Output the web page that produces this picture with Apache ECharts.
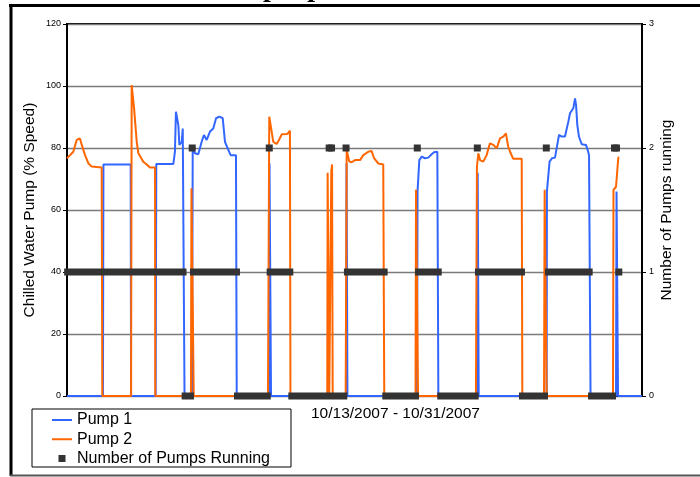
<!DOCTYPE html>
<html>
<head>
<meta charset="utf-8">
<script src="https://cdn.jsdelivr.net/npm/echarts@6/dist/echarts.min.js"></script>
<style>
html,body{margin:0;padding:0;background:#fff;}
#chart{width:700px;height:477px;}
</style>
</head>
<body>
<div id="chart"></div>
<script>
// x values: hours since 10/13/2007 00:00 (axis spans 10/13 - 10/31)
const xMaxHours = 456;
const leftTicks = [0, 20, 40, 60, 80, 100, 120];
const rightTicks = [0, 1, 2, 3];

// Pump 1 speed (%), [hour, speed]
const pump1 = [[0,0],[28.5,0],[28.9,74.7],[50.5,74.7],[50.8,0],[70.3,0],[70.8,74.8],[84.3,74.8],[85.6,78.8],[86.4,91.7],[87.5,92.3],[88.3,87.4],[89.1,81],[91.0,82],[91.8,86.3],[92.8,85.8],[93.2,0],[99.1,0],[99.7,80],[101.5,78.3],[104.1,78],[106.8,82],[108.6,84.2],[110.8,82.6],[113.4,85.3],[116.0,86.3],[118.2,89.6],[120.8,90.1],[123.5,89.6],[125.3,82],[127.9,79.4],[129.8,77.7],[134.0,77.7],[134.6,0],[160.2,0],[160.6,75],[161.4,75],[161.8,0],[221.4,0],[221.7,75],[222.1,75],[222.4,0],[277.6,0],[278.0,66],[279.4,76.1],[281.3,77.2],[283.9,76.7],[286.5,76.9],[289.2,78],[291.0,78.6],[293.7,78.8],[294.5,0],[325.4,0],[325.7,72],[326.2,72],[326.5,0],[380.4,0],[380.6,66],[382.7,75.6],[384.6,76.7],[387.0,76.9],[388.3,79.9],[390.2,84.2],[392.3,83.7],[394.9,83.7],[397.6,88.5],[398.9,91.2],[401.5,92.8],[402.9,96],[403.7,93.9],[404.7,87.4],[406.0,83.7],[408.2,81.2],[411.6,81],[412.9,79.4],[414.0,77.7],[414.8,77.7],[415.2,0],[435.4,0],[435.8,66],[436.6,66],[437.0,0],[456,0]];

// Pump 2 speed (%), [hour, speed]
const pump2 = [[0,76.7],[2.4,77.7],[5.0,78.8],[7.7,82.6],[10.3,83.1],[11.7,81],[14.3,77.7],[16.9,75.1],[19.6,74],[27.5,73.7],[28.0,0],[50.8,0],[51.3,100.3],[51.8,100],[53.2,92.8],[55.3,82],[56.6,78.3],[60.5,75.6],[63.7,74.5],[65.8,73.7],[69.8,73.7],[70.0,0],[98.3,0],[98.7,67],[100.2,67],[100.5,0],[159.4,0],[160.4,90.1],[162.3,85.3],[163.6,82],[166.3,81.3],[168.1,82.6],[170.3,84.4],[174.7,84.5],[176.8,85.6],[177.2,0],[206.4,0],[206.7,72],[207.8,72.5],[208.0,0],[209.1,0],[209.6,72.5],[210.2,74.7],[210.7,0],[221.0,0],[221.8,79.4],[223.9,75.6],[225.8,75.4],[228.4,76.1],[232.4,76.1],[235.0,77.7],[238.9,78.8],[241.6,79],[243.5,76.7],[246.9,75],[250.8,74.7],[251.6,0],[276.4,0],[276.8,66.5],[277.9,66],[278.4,0],[324.3,0],[325.1,74],[326.2,78.3],[327.5,76.1],[330.1,75.6],[332.8,77.7],[335.4,81.5],[338.1,81],[340.8,79.9],[343.4,83.1],[346.0,83.7],[348.1,84.7],[349.9,80.4],[351.9,78.3],[353.9,76.5],[360.6,76.5],[361.1,0],[378.3,0],[378.8,66.5],[380.1,66.5],[380.4,0],[433.0,0],[433.4,66.5],[435.4,67.5],[437.2,76.9],[438.0,77]];

// Number of pumps running: runs of consecutive samples [startHour, endHour, count]
const pumpsRunning = [[0.5,92.0,1],[93.7,97.9,0],[99.3,99.3,2],[100.3,134.4,1],[135.2,158.8,0],[160.4,160.4,2],[161.1,176.7,1],[178.3,219.5,0],[207.9,207.9,2],[209.8,209.8,2],[221.3,221.3,2],[222.4,251.5,1],[252.8,276.4,0],[277.8,277.8,2],[278.8,294.4,1],[296.4,323.7,0],[325.4,325.4,2],[326.3,360.4,1],[361.2,378.7,0],[380.1,380.1,2],[381.8,414.1,1],[416.0,432.6,0],[434.2,434.2,2],[435.8,435.8,2],[437.6,437.6,1]];

const seriesNames = ['Pump 1', 'Pump 2', 'Number of Pumps Running'];
const dateRangeLabel = '10/13/2007 - 10/31/2007';
const leftAxisName = 'Chilled Water Pump (% Speed)';
const rightAxisName = 'Number of Pumps running';
const chartTitle = 'Pump Operation';

const SANS = '"Liberation Sans", Arial, sans-serif';
const chart = echarts.init(document.getElementById('chart'), null, {renderer: 'canvas'});
const MK = 7;

chart.setOption({
  animation: false,
  backgroundColor: '#fff',
  textStyle: {fontFamily: SANS},
  grid: {left: 67, right: 58, top: 24, bottom: 81, show: true, borderColor: '#000', borderWidth: 2, containLabel: false},
  title: [{
    text: dateRangeLabel, left: 311, top: 406,
    textStyle: {fontFamily: SANS, fontSize: 15.5, fontWeight: 'normal', color: '#000'}, padding: 0
  }],
  graphic: [
    {type: 'text', x: 207, y: 3, style: {text: chartTitle, font: 'bold 28px "Liberation Serif", serif', fill: '#000', verticalAlign: 'bottom', align: 'left'}, z: 0},
    {type: 'line', shape: {x1: 9, y1: 5.5, x2: 700, y2: 5.5}, style: {stroke: '#000', lineWidth: 3}, z: 10},
    {type: 'line', shape: {x1: 11, y1: 4, x2: 11, y2: 476}, style: {stroke: '#000', lineWidth: 3}, z: 10},
    {type: 'line', shape: {x1: 10, y1: 475.5, x2: 700, y2: 475.5}, style: {stroke: '#555', lineWidth: 2}, z: 10}
  ],
  legend: {
    orient: 'vertical', left: 32, top: 409,
    padding: [3, 21, 0.5, 20], itemGap: 3.25, itemWidth: 20, itemHeight: 7,
    borderColor: '#000', borderWidth: 1, backgroundColor: '#fff',
    symbolKeepAspect: true,
    textStyle: {fontFamily: SANS, fontSize: 16, color: '#000'},
    data: [
      {name: seriesNames[0], icon: 'path://M0,0L20,0L20,2L0,2Z'},
      {name: seriesNames[1], icon: 'path://M0,0L20,0L20,2L0,2Z'},
      {name: seriesNames[2], icon: 'path://M0,0L10,0L10,10L0,10Z'}
    ]
  },
  xAxis: {
    type: 'value', min: 0, max: xMaxHours,
    axisLine: {show: true, onZero: false, lineStyle: {color: '#000', width: 2}},
    axisTick: {show: false}, axisLabel: {show: false}, splitLine: {show: false}
  },
  yAxis: [{
    type: 'value', min: leftTicks[0], max: leftTicks[leftTicks.length - 1], interval: 20, position: 'left',
    name: leftAxisName, nameLocation: 'middle', nameRotate: 90, nameGap: 29, nameMoveOverlap: false,
    nameTextStyle: {fontFamily: SANS, fontSize: 15.5, color: '#000'},
    axisLine: {show: true, lineStyle: {color: '#000', width: 2}},
    axisTick: {show: true, inside: false, length: 4, lineStyle: {color: '#000', width: 1}},
    axisLabel: {fontFamily: SANS, fontSize: 9, color: '#000', margin: 6},
    splitLine: {show: true, lineStyle: {color: '#7a7a7a', width: 1.4}}
  }, {
    type: 'value', min: rightTicks[0], max: rightTicks[rightTicks.length - 1], interval: 1, position: 'right',
    name: rightAxisName, nameLocation: 'middle', nameRotate: 90, nameGap: 17, nameMoveOverlap: false,
    nameTextStyle: {fontFamily: SANS, fontSize: 15.5, color: '#000'},
    axisLine: {show: true, lineStyle: {color: '#000', width: 2}},
    axisTick: {show: true, inside: false, length: 4, lineStyle: {color: '#000', width: 1}},
    axisLabel: {fontFamily: SANS, fontSize: 9, color: '#000', margin: 7},
    splitLine: {show: false}
  }],
  series: [{
    name: seriesNames[0], type: 'line', xAxisIndex: 0, yAxisIndex: 0,
    data: pump1, showSymbol: false, symbol: 'none', smooth: false,
    lineStyle: {color: '#3366FF', width: 2}, itemStyle: {color: '#3366FF'}, z: 3
  }, {
    name: seriesNames[1], type: 'line', xAxisIndex: 0, yAxisIndex: 0,
    data: pump2, showSymbol: false, symbol: 'none', smooth: false,
    lineStyle: {color: '#FF6600', width: 2}, itemStyle: {color: '#FF6600'}, z: 4
  }, {
    name: seriesNames[2], type: 'custom', xAxisIndex: 0, yAxisIndex: 1,
    data: pumpsRunning, encode: {x: [0, 1], y: 2},
    itemStyle: {color: '#333333'}, z: 5, clip: false,
    renderItem: function (params, api) {
      const v = api.value(2);
      const a = api.coord([api.value(0), v]);
      const b = api.coord([api.value(1), v]);
      return {
        type: 'rect',
        shape: {x: a[0] - MK / 2, y: a[1] - MK / 2, width: b[0] - a[0] + MK, height: MK},
        style: {fill: '#333333'}
      };
    }
  }]
});
</script>
</body>
</html>
